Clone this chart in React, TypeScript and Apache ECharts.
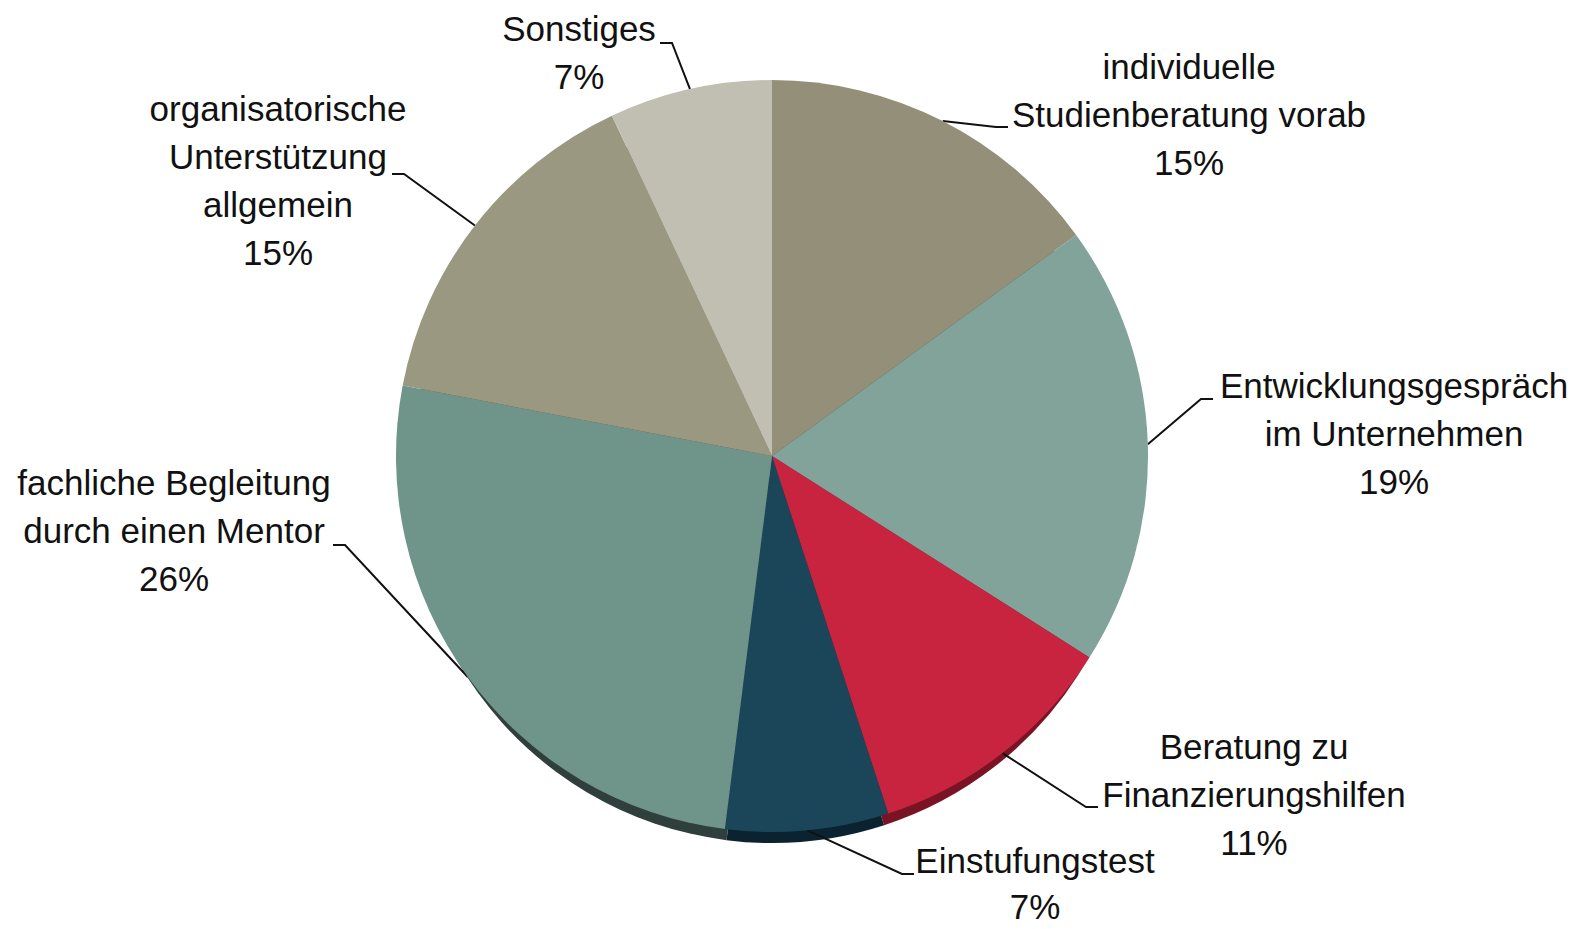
import React, { useEffect, useRef } from "react";
import * as echarts from "echarts";

const categories: string[] = [
  "individuelle\nStudienberatung vorab",
  "Entwicklungsgespräch\nim Unternehmen",
  "Beratung zu\nFinanzierungshilfen",
  "Einstufungstest",
  "fachliche Begleitung\ndurch einen Mentor",
  "organisatorische\nUnterstützung\nallgemein",
  "Sonstiges",
];
const shares: number[] = [15, 19, 11, 7, 26, 15, 7];

const faceColors: string[] = ["#938f79", "#81a39a", "#c8243f", "#1b4659", "#6f948a", "#9b9881", "#c1bfb1"];
const sideColors: string[] = ["#4a483c", "#3e524c", "#7a1424", "#0b2330", "#2f3f3b", "#4d4c40", "#6a6960"];

// label placement (px): text block centre, and end of the leader line
const labelCentres: number[][] = [
  [1189, 114],
  [1394, 433],
  [1254, 794],
  [1035, 883],
  [174, 530],
  [278, 180],
  [579, 52],
];
const lineEnds: number[][] = [
  [1008, 127],
  [1213, 399],
  [1098, 807],
  [914, 874],
  [333, 545],
  [392, 174],
  [660, 43],
];
const labelLineHeights: number[] = [48, 48, 48, 46, 48, 48, 48];

const CENTER = [772, 456];
const RADIUS = 376;
const DEPTH_OFFSET = 24;
const DEPTH_SHRINK = 13;

export default function App() {
  const ref = useRef<HTMLDivElement>(null);
  useEffect(() => {
    if (!ref.current) return;
    const chart = echarts.init(ref.current, undefined, { renderer: "svg" });
    const font = "'Liberation Sans', Arial, Helvetica, sans-serif";
    chart.setOption({
      animation: false,
      backgroundColor: "#ffffff",
      series: [
        {
          type: "pie",
          silent: true,
          center: [CENTER[0], CENTER[1] + DEPTH_OFFSET],
          radius: RADIUS - DEPTH_SHRINK,
          startAngle: 90,
          clockwise: true,
          label: { show: false },
          labelLine: { show: false },
          z: 1,
          data: categories.map((name, i) => ({
            name,
            value: shares[i],
            itemStyle: { color: sideColors[i] },
          })),
        },
        {
          type: "pie",
          center: CENTER,
          radius: RADIUS,
          startAngle: 90,
          clockwise: true,
          avoidLabelOverlap: false,
          z: 2,
          label: {
            show: true,
            position: "outside",
            formatter: "{b}\n{c}%",
            fontFamily: font,
            fontSize: 35,
            lineHeight: 48,
            color: "#111111",
          },
          labelLine: {
            show: true,
            length: 10,
            length2: 10,
            lineStyle: { color: "#111111", width: 2 },
          },
          labelLayout: (p: any) => {
            const i = p.dataIndex;
            const [cx, cy] = labelCentres[i];
            const [ax, ay] = lineEnds[i];
            const start = p.labelLinePoints && p.labelLinePoints[0] ? p.labelLinePoints[0] : [ax, ay];
            const bx = ax + (start[0] < ax ? -12 : 12);
            return {
              x: cx,
              y: cy,
              align: "center",
              verticalAlign: "middle",
              labelLinePoints: [[start[0], start[1]], [bx, ay], [ax, ay]],
            };
          },
          data: categories.map((name, i) => ({
            name,
            value: shares[i],
            itemStyle: { color: faceColors[i] },
            label: { lineHeight: labelLineHeights[i] },
          })),
        },
      ],
    });
    return () => chart.dispose();
  }, []);
  return (
    <div
      ref={ref}
      style={{ position: "absolute", left: 0, top: 0, width: 1587, height: 929, background: "#fff" }}
    />
  );
}
